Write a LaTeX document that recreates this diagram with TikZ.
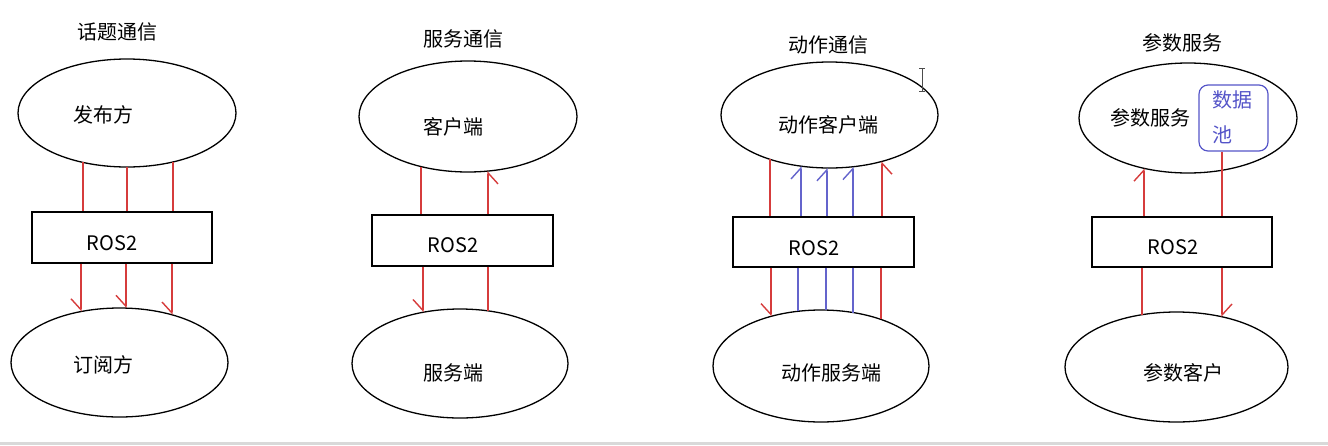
\documentclass[tikz,border=0pt]{standalone}
\usepackage{fontspec}
\setmainfont{Noto Sans CJK SC}
\usetikzlibrary{shapes.geometric,arrows.meta,calc}
\definecolor{lred}{RGB}{214,60,60}
\definecolor{lblue}{RGB}{100,100,204}
\definecolor{tblue}{RGB}{84,84,200}
\newcommand\myEP[5]{\coordinate (#1) at ($(#2.center)+(#3,{(#5)*sqrt(1-((#3)/(#4))^2)})$);}
\tikzset{
  ell/.style={draw, ellipse, inner sep=0pt, line width=1.3pt},
  rosbox/.style={draw, rectangle, inner sep=0pt, line width=1.3pt},
  lbl/.style={font=\fontsize{20pt}{24pt}\selectfont, inner sep=0pt},
  rl/.style={draw=lred, line width=1.4pt},
  bl/.style={draw=lblue, line width=1.4pt},
  tipR/.style={-{Straight Barb[right, length=11pt, width=20pt]}},
  tipL/.style={-{Straight Barb[left, length=11pt, width=20pt]}},
}
\begin{document}
\begin{tikzpicture}[x=1pt,y=-1pt]
\useasboundingbox (0,0) rectangle (1328,445);
\fill[black!15] (0,442) rectangle (1328,445);

% ---------- panel 1 ----------
\node[lbl] (T1) at (117,32) {话题通信};
\node[ell, minimum width=218pt, minimum height=108pt] (E1) at (127,113) {};
\node[lbl] (L1) at (103,115) {发布方};
\node[rosbox, minimum width=180pt, minimum height=51pt] (B1) at (122,237.5) {};
\node[lbl] (R1) at (112,243) {ROS2};
\node[ell, minimum width=217pt, minimum height=109pt] (E2) at (119.5,362.5) {};
\node[lbl] (L2) at (103,365) {订阅方};
\myEP{a1}{E1}{-44}{109}{54}
\myEP{a2}{E1}{0}{109}{54}
\myEP{a3}{E1}{46}{109}{54}
\draw[rl] (a1) -- (a1 |- B1.north);
\draw[rl] (a2) -- (a2 |- B1.north);
\draw[rl] (a3) -- (a3 |- B1.north);
\myEP{c1}{E2}{-38.5}{108.5}{-54.5}
\myEP{c2}{E2}{6.5}{108.5}{-54.5}
\myEP{c3}{E2}{52.5}{108.5}{-54.5}
\draw[rl,tipR] (c1 |- B1.south) -- (c1);
\draw[rl,tipR] (c2 |- B1.south) -- (c2);
\draw[rl,tipR] (c3 |- B1.south) -- (c3);

% ---------- panel 2 ----------
\node[lbl] (T2) at (463,39) {服务通信};
\node[ell, minimum width=218pt, minimum height=111pt] (E3) at (468,116.5) {};
\node[lbl] (L3) at (453,127) {客户端};
\node[rosbox, minimum width=181pt, minimum height=51pt] (B2) at (462.5,240.5) {};
\node[lbl] (R2) at (453,245) {ROS2};
\node[ell, minimum width=216pt, minimum height=109pt] (E4) at (460,363.5) {};
\node[lbl] (L4) at (453,373) {服务端};
\myEP{a4}{E3}{-47}{109}{55.5}
\myEP{a5}{E3}{20}{109}{55.5}
\draw[rl] (a4) -- (a4 |- B2.north);
\draw[rl,tipR] (a5 |- B2.north) -- (a5);
\myEP{c4}{E4}{-37}{108}{-54.5}
\myEP{c5}{E4}{28}{108}{-54.5}
\draw[rl,tipR] (c4 |- B2.south) -- (c4);
\draw[rl] (c5 |- B2.south) -- (c5);

% ---------- panel 3 ----------
\node[lbl] (T3) at (828,45) {动作通信};
\node[ell, minimum width=217pt, minimum height=106pt] (E5) at (829.5,115) {};
\node[lbl] (L5) at (828,125) {动作客户端};
\node[rosbox, minimum width=181pt, minimum height=50pt] (B3) at (823.5,242) {};
\node[lbl] (R3) at (814,248) {ROS2};
\node[ell, minimum width=216pt, minimum height=112pt] (E6) at (821,366) {};
\node[lbl] (L6) at (831,373) {动作服务端};
\myEP{a6}{E5}{-59.5}{108.5}{53}
\myEP{a7}{E5}{-28.5}{108.5}{53}
\myEP{a8}{E5}{-2.5}{108.5}{53}
\myEP{a9}{E5}{23.5}{108.5}{53}
\myEP{a10}{E5}{52.5}{108.5}{53}
\draw[rl] (a6) -- (a6 |- B3.north);
\draw[bl,tipL] (a7 |- B3.north) -- (a7);
\draw[bl,tipL] (a8 |- B3.north) -- (a8);
\draw[bl,tipL] (a9 |- B3.north) -- (a9);
\draw[rl,tipR] (a10 |- B3.north) -- (a10);
\myEP{c6}{E6}{-50}{108}{-56}
\myEP{c7}{E6}{-23}{108}{-56}
\myEP{c8}{E6}{5}{108}{-56}
\myEP{c9}{E6}{32}{108}{-56}
\myEP{c10}{E6}{60}{108}{-56}
\draw[rl,tipR] (c6 |- B3.south) -- (c6);
\draw[bl] (c7 |- B3.south) -- (c7);
\draw[bl] (c8 |- B3.south) -- (c8);
\draw[bl] (c9 |- B3.south) -- (c9);
\draw[rl] (c10 |- B3.south) -- (c10);
% text cursor
\draw[line width=0.8pt, black!70] (922,68) -- (922,91) (919,68) -- (925,68) (919,91) -- (925,91);

% ---------- panel 4 ----------
\node[lbl] (T4) at (1182,43) {参数服务};
\node[ell, minimum width=218pt, minimum height=110pt] (E7) at (1188,118) {};
\node[lbl] (L7) at (1150,118) {参数服务};
\node[draw=tblue, line width=1.2pt, rounded corners=9pt, minimum width=69pt, minimum height=66pt, inner sep=0pt] (D) at (1233.5,118) {};
\node[lbl, text=tblue] (D1) at (1232,100) {数据};
\node[lbl, text=tblue] (D2) at (1222,135) {池};
\node[rosbox, minimum width=180pt, minimum height=50pt] (B4) at (1182,242) {};
\node[lbl] (R4) at (1173,247) {ROS2};
\node[ell, minimum width=223pt, minimum height=110pt] (E8) at (1176.5,367) {};
\node[lbl] (L8) at (1183,373) {参数客户};
\myEP{a11}{E7}{-44}{109}{55}
\draw[rl,tipL] (a11 |- B4.north) -- (a11);
\coordinate (d1) at ($(D.south)+(-11.5,0)$);
\draw[rl] (d1) -- (d1 |- B4.north);
\myEP{c11}{E8}{-34.5}{111.5}{-55}
\myEP{c12}{E8}{45.5}{111.5}{-55}
\draw[rl] (c11 |- B4.south) -- (c11);
\draw[rl,tipL] (c12 |- B4.south) -- (c12);
\end{tikzpicture}
\end{document}
